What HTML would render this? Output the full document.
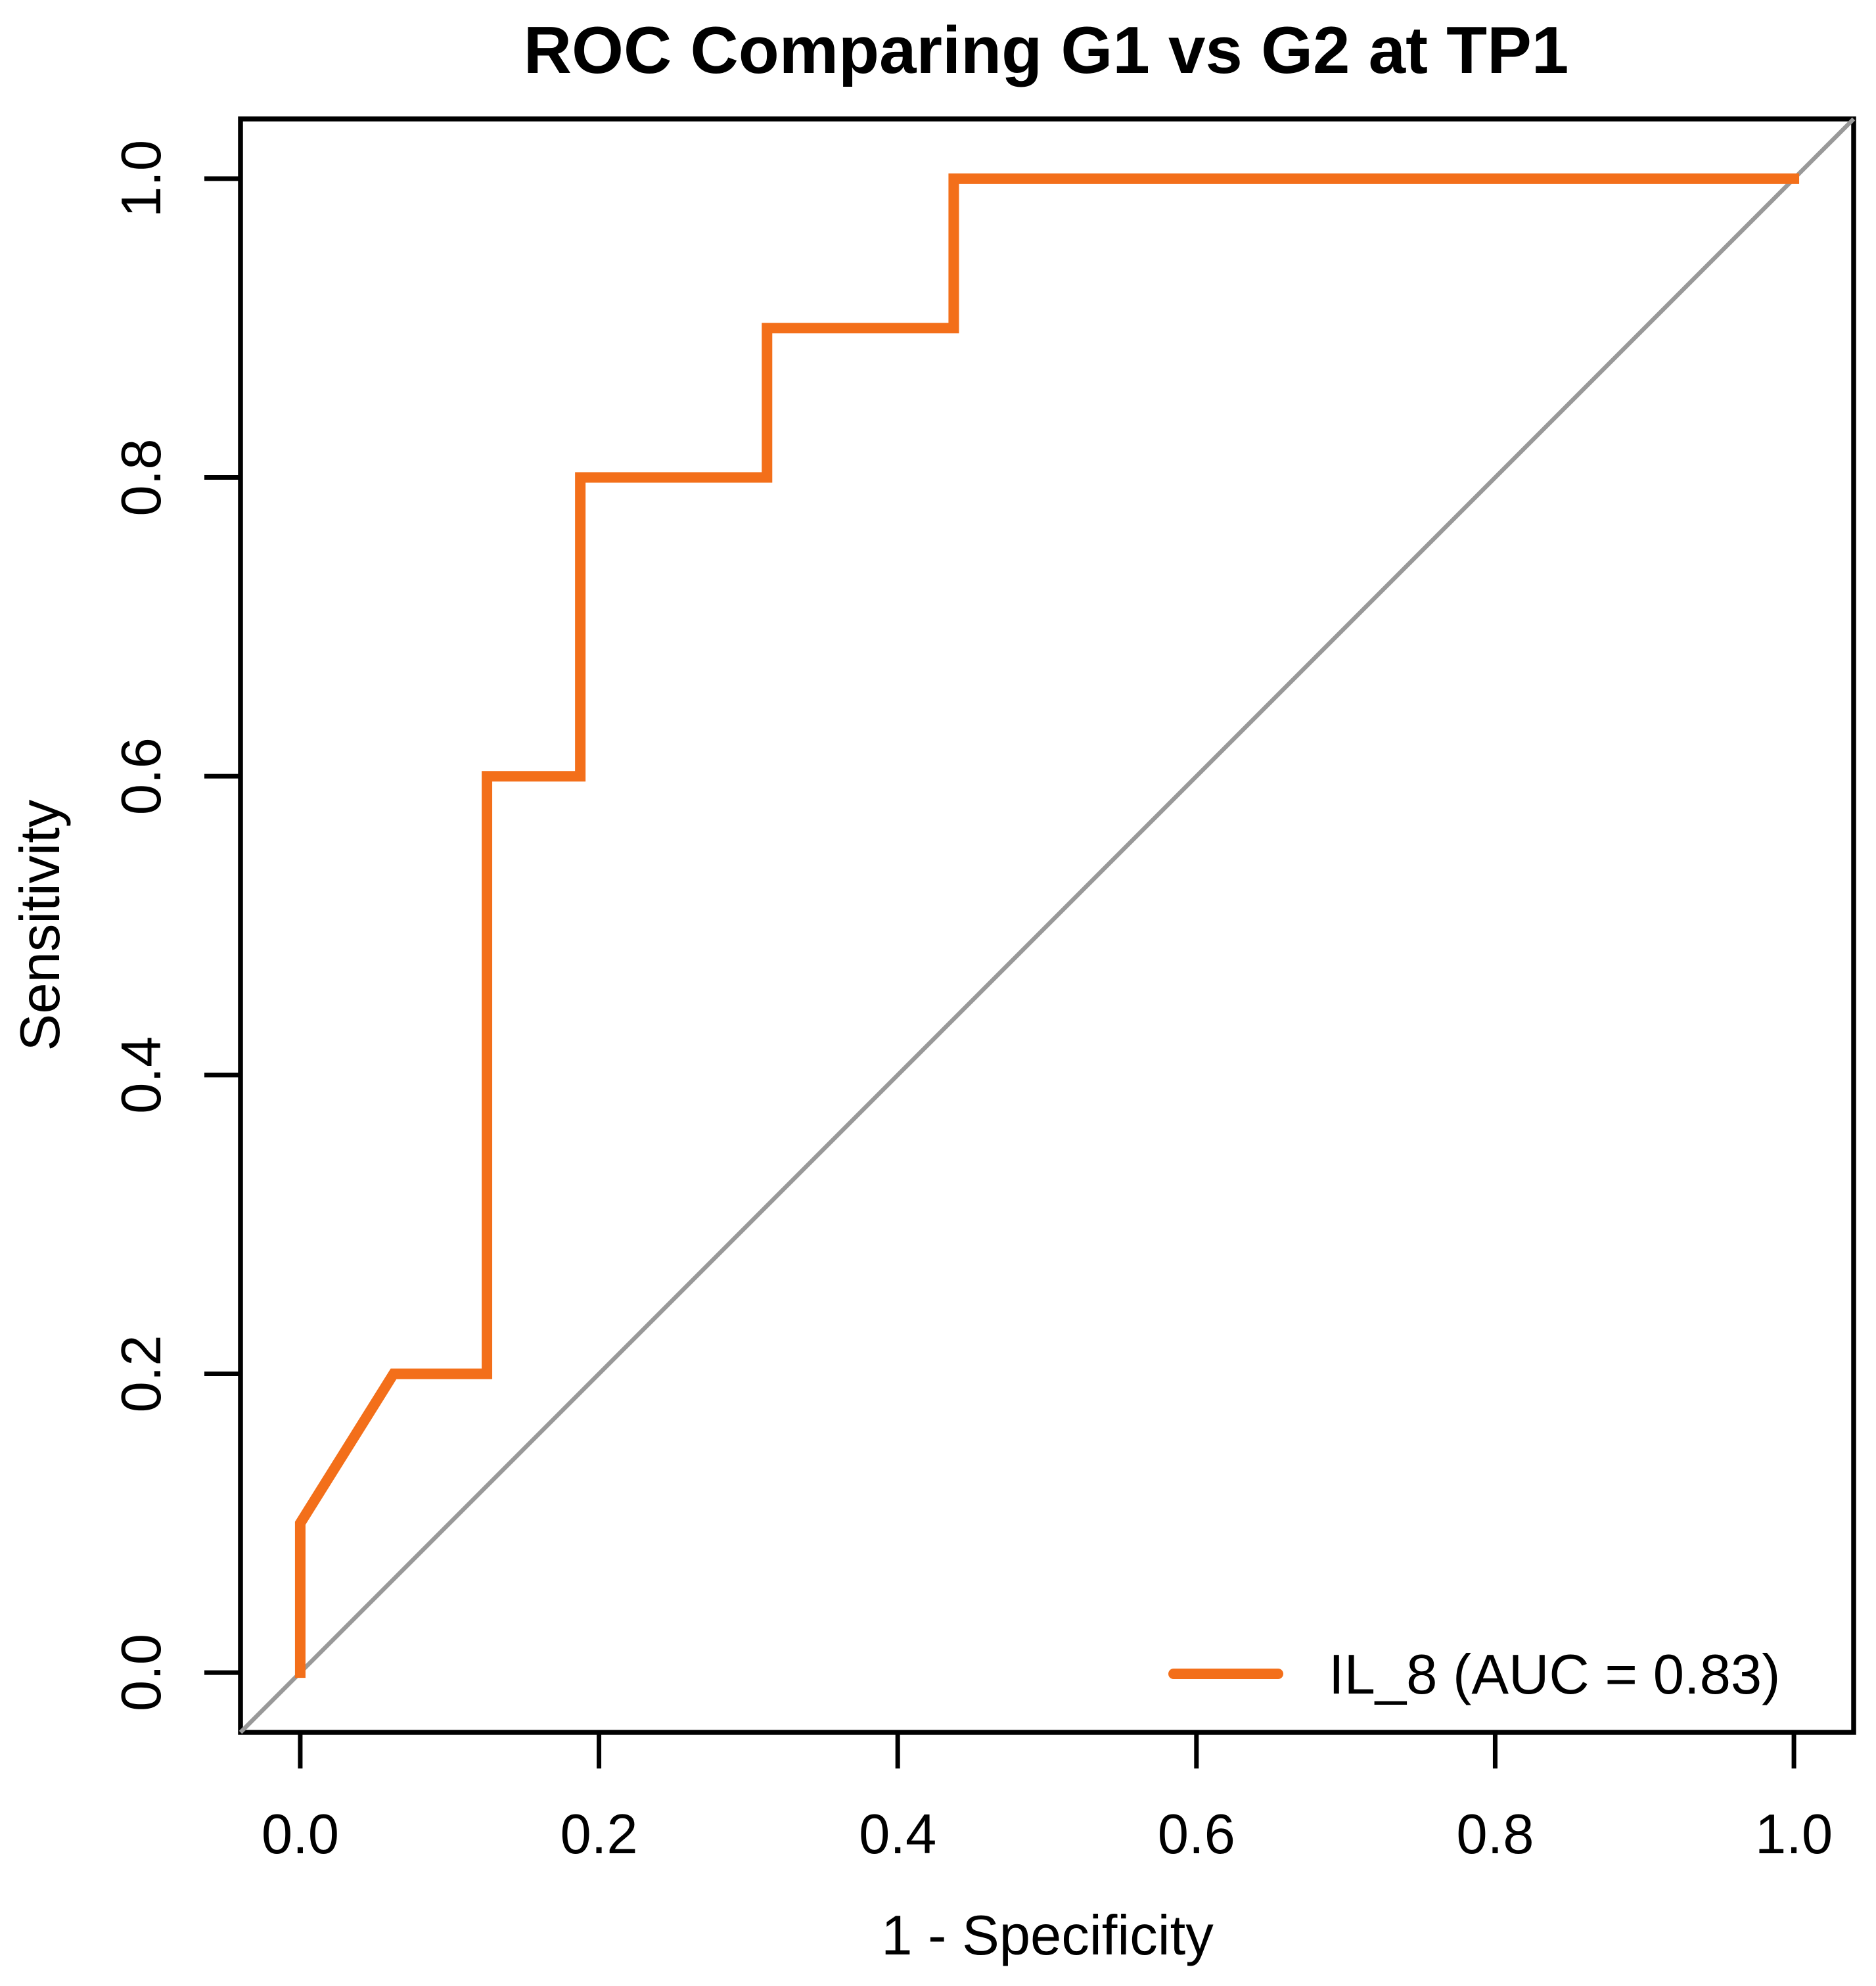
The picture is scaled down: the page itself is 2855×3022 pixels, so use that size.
<!DOCTYPE html>
<html lang="en">
<head>
<meta charset="utf-8">
<title>ROC Comparing G1 vs G2 at TP1</title>
<style>
  html, body { margin: 0; padding: 0; background: #fff; }
  body { width: 2855px; height: 3022px; overflow: hidden; }
  svg { display: block; }
  text { font-family: "Liberation Sans", Arial, Helvetica, sans-serif; fill: #000; }
</style>
</head>
<body>
<svg id="chart" xmlns="http://www.w3.org/2000/svg" width="2855" height="3022" viewBox="0 0 2855 3022">
  <rect x="0" y="0" width="2855" height="3022" fill="#fff"></rect>
  <text x="1592" y="111" text-anchor="middle" font-size="101.5" font-weight="bold">ROC Comparing G1 vs G2 at TP1</text>
  <text x="1594" y="2974" text-anchor="middle" font-size="85">1 - Specificity</text>
  <text transform="translate(90 1408) rotate(-90)" text-anchor="middle" font-size="85">Sensitivity</text>
  <rect x="366" y="181" width="2455" height="2455" fill="none" stroke="#000" stroke-width="7.5"></rect>
  <g id="marks"></g>
  <g id="x-axis"></g>
  <g id="y-axis"></g>
  <g id="legend">
    <line x1="1786" y1="2547" x2="1945" y2="2547" stroke="#f36f1a" stroke-width="16" stroke-linecap="round"></line>
    <text x="2022" y="2577" font-size="85">IL_8 (AUC = 0.83)</text>
  </g>
</svg>
<script>
const falsePositiveRates = [0, 0, 0.0625, 0.125, 0.125, 0.1875, 0.1875, 0.3125, 0.3125, 0.4375, 0.4375, 1];
const sensitivities = [0, 0.1, 0.2, 0.2, 0.6, 0.6, 0.8, 0.8, 0.9, 0.9, 1, 1];
const xTicks = [0, 0.2, 0.4, 0.6, 0.8, 1];
const yTicks = [0, 0.2, 0.4, 0.6, 0.8, 1];
const xTickLabels = ['0.0', '0.2', '0.4', '0.6', '0.8', '1.0'];
const yTickLabels = ['0.0', '0.2', '0.4', '0.6', '0.8', '1.0'];

const NS = 'http://www.w3.org/2000/svg';
const plot = { left: 366, right: 2821, top: 181, bottom: 2636 };
const axisRange = { min: -0.04, max: 1.04 };

function xScale(v) {
  return plot.left + (v - axisRange.min) / (axisRange.max - axisRange.min) * (plot.right - plot.left);
}
function yScale(v) {
  return plot.bottom - (v - axisRange.min) / (axisRange.max - axisRange.min) * (plot.bottom - plot.top);
}
function makeEl(tag, attrs) {
  const el = document.createElementNS(NS, tag);
  Object.keys(attrs).forEach(function (k) { el.setAttribute(k, attrs[k]); });
  return el;
}

const marks = document.getElementById('marks');
const xAxis = document.getElementById('x-axis');
const yAxis = document.getElementById('y-axis');

const diagonal = makeEl('line', {
  x1: xScale(axisRange.min), y1: yScale(axisRange.min),
  x2: xScale(axisRange.max), y2: yScale(axisRange.max),
  stroke: '#999999', 'stroke-width': 6.5
});


marks.appendChild(diagonal);

const pts = falsePositiveRates.map(function (x, i) {
  return xScale(x).toFixed(2) + ',' + yScale(sensitivities[i]).toFixed(2);
}).join(' ');
const curve = makeEl('polyline', {
  points: pts, fill: 'none', stroke: '#f36f1a', 'stroke-width': 16,
  'stroke-linejoin': 'miter', 'stroke-linecap': 'square'
});


marks.appendChild(curve);

xTicks.forEach(function (v, i) {
  const x = xScale(v);
  const tick = makeEl('line', { x1: x, x2: x, y1: plot.bottom, y2: plot.bottom + 55, stroke: '#000', 'stroke-width': 7 });
  
  
  xAxis.appendChild(tick);
  const label = makeEl('text', { x: x, y: 2820, 'text-anchor': 'middle', 'font-size': 85 });
  label.textContent = xTickLabels[i];
  
  
  xAxis.appendChild(label);
});

yTicks.forEach(function (v, i) {
  const y = yScale(v);
  const tick = makeEl('line', { x1: plot.left - 55, x2: plot.left, y1: y, y2: y, stroke: '#000', 'stroke-width': 7 });
  
  
  yAxis.appendChild(tick);
  const label = makeEl('text', { transform: 'translate(244 ' + y + ') rotate(-90)', 'text-anchor': 'middle', 'font-size': 85 });
  label.textContent = yTickLabels[i];
  
  
  yAxis.appendChild(label);
});
</script>
</body>
</html>
